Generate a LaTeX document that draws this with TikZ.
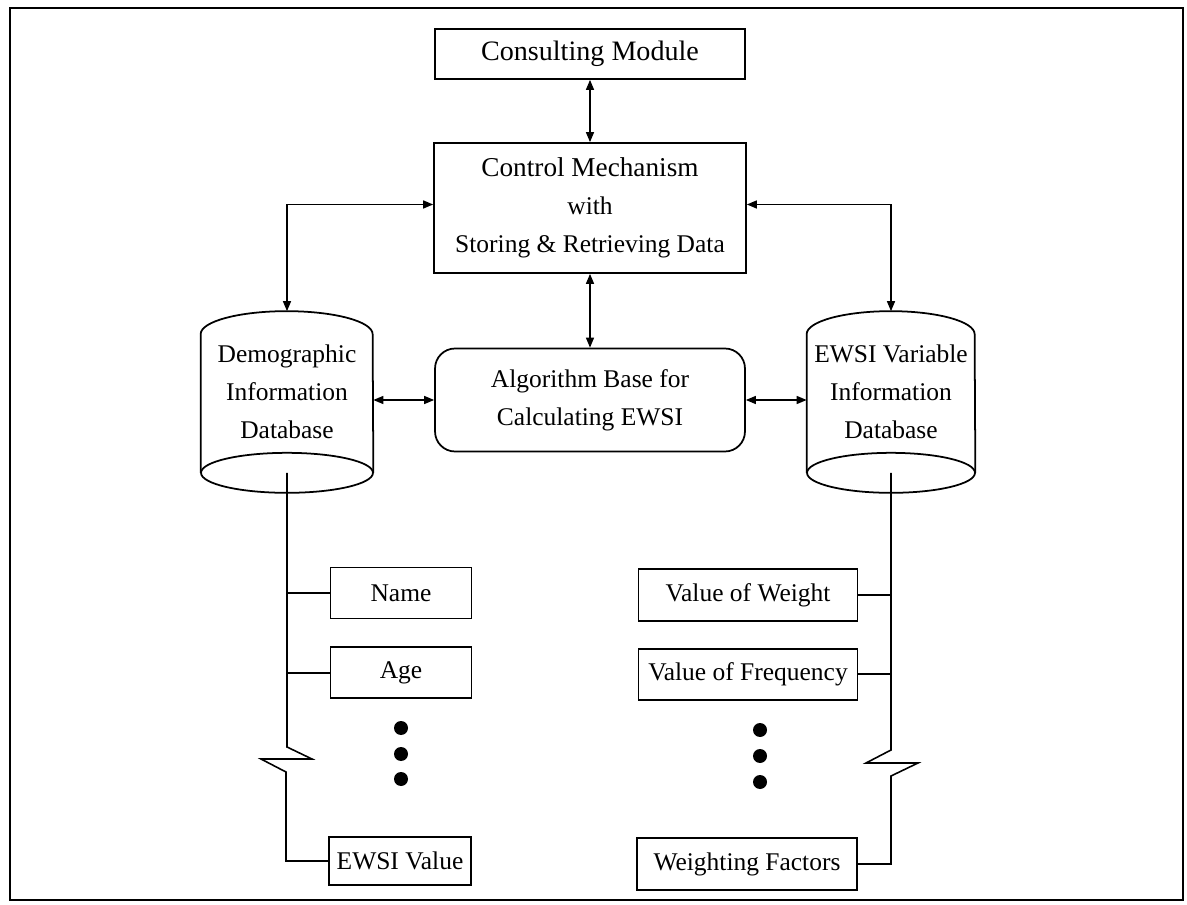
\documentclass[tikz,border=0pt]{standalone}
\usepackage{fontspec}
\setmainfont{Liberation Serif}
\usetikzlibrary{arrows.meta,positioning,calc}

\begin{document}
\begin{tikzpicture}[x=0.02cm,y=-0.02cm,
    font=\fontsize{14.5}{21.5}\selectfont,
    box/.style={draw,line width=1pt,inner sep=2pt,align=center},
    rbox/.style={box,rounded corners=0.4cm},
    db/.style={inner sep=0pt,align=center,minimum height=3.22cm},
    arr/.style={{Triangle[length=2mm,width=1.6mm]}-{Triangle[length=2mm,width=1.6mm]},line width=0.8pt},
    bus/.style={line width=0.9pt},
    dot/.style={circle,fill,inner sep=0pt,minimum size=0.28cm}]
    \useasboundingbox (0,0) rectangle (1187,905);
    \draw[line width=0.9pt] (10,8) rectangle (1183,900);
    % top part
    \node[box,minimum width=6.2cm,minimum height=1cm,font=\fontsize{16}{21.5}\selectfont] (cons) at (590,54) {Consulting Module};
    \node[box,minimum width=6.24cm,minimum height=2.6cm] (ctrl) at (590,208)
      {{\fontsize{15.5}{21.5}\selectfont Control Mechanism}\\with\\Storing \& Retrieving Data};
    \node[rbox,minimum width=6.2cm,minimum height=2.06cm] (algo) at (590,400)
      {Algorithm Base for\\Calculating EWSI};
    % databases
    \node[db,minimum width=3.44cm] (demo) at (287,392) {Demographic\\Information\\Database};
    \node[db,minimum width=3.36cm] (evar) at (891,392) {EWSI Variable\\Information\\Database};
    \draw[line width=1pt] (demo.south west) -- ([yshift=-0.46cm]demo.north west)
      arc[start angle=180,end angle=0,x radius=1.72cm,y radius=0.46cm] -- (demo.south east);
    \draw[line width=1pt] (demo.south) ellipse[x radius=1.72cm,y radius=0.4cm];
    \draw[line width=1pt] (evar.south west) -- ([yshift=-0.46cm]evar.north west)
      arc[start angle=180,end angle=0,x radius=1.68cm,y radius=0.46cm] -- (evar.south east);
    \draw[line width=1pt] (evar.south) ellipse[x radius=1.68cm,y radius=0.4cm];
    \draw[arr] (cons) -- (ctrl);
    \draw[arr] (ctrl) -- (algo);
    \draw[arr] ([yshift=2pt]ctrl.west) -| (demo.north);
    \draw[arr] ([yshift=2pt]ctrl.east) -| (evar.north);
    \draw[arr] (algo.west) -- (algo.west -| demo.east);
    \draw[arr] (algo.east) -- (algo.east -| evar.west);
    % left list
    \node[box,minimum width=2.82cm,minimum height=1.02cm] (name) at (401,593) {Name};
    \node[box,minimum width=2.82cm,minimum height=1.02cm,below=0.54cm of name] (age) {Age};
    \foreach \y/\n in {728/1,754/2,779/3}
      \node[dot] (ldot\n) at (401,\y) {};
    \node[box,minimum width=2.84cm,minimum height=0.96cm] (ewsi) at (400,861) {EWSI Value};
    \coordinate (lbrk) at (demo.south |- 0,747);
    \draw[bus] (demo.south) -- (lbrk) -- ++(25,12) -- ++(-51,0) -- ++(25,13) |- (ewsi.west);
    \draw[bus] (name.west) -- (name.west -| demo.south);
    \draw[bus] (age.west) -- (age.west -| demo.south);
    % right list
    \node[box,minimum width=4.38cm,minimum height=1.04cm] (weight) at (748,595) {Value of Weight};
    \node[box,minimum width=4.38cm,minimum height=1.02cm,below=0.52cm of weight] (freq) {Value of Frequency};
    \foreach \y/\n in {730/1,756/2,782/3}
      \node[dot] (rdot\n) at (760,\y) {};
    \node[box,minimum width=4.4cm,minimum height=1.04cm] (wfac) at (747,864) {Weighting Factors};
    \coordinate (rbrk) at (evar.south |- 0,750);
    \draw[bus] (evar.south) -- (rbrk) -- ++(-25,13) -- ++(52,0) -- ++(-27,13) |- (wfac.east);
    \draw[bus] (weight.east) -- (weight.east -| evar.south);
    \draw[bus] (freq.east) -- (freq.east -| evar.south);
\end{tikzpicture}
\end{document}
